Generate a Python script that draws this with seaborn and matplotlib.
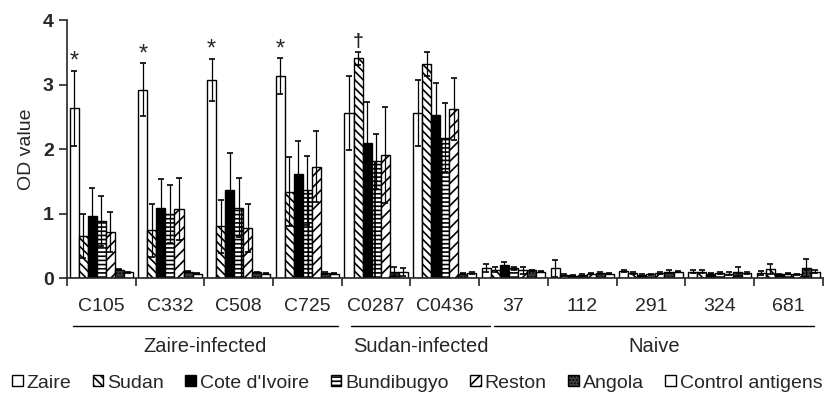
import numpy as np
import pandas as pd
import seaborn as sns
import matplotlib.pyplot as plt
import matplotlib.transforms as mtransforms
from matplotlib.patches import Patch

samples = ['C105', 'C332', 'C508', 'C725', 'C0287', 'C0436', '37', '112', '291', '324', '681']
antigens = ['Zaire', 'Sudan', "Cote d'Ivoire", 'Bundibugyo', 'Reston', 'Angola', 'Control antigens']

zaire = [2.63, 2.92, 3.07, 3.13, 2.56, 2.56, 0.16, 0.15, 0.11, 0.10, 0.08]
zaire_err = [0.58, 0.41, 0.33, 0.28, 0.57, 0.51, 0.06, 0.13, 0.02, 0.02, 0.03]
sudan = [0.65, 0.74, 0.80, 1.34, 3.41, 3.32, 0.13, 0.05, 0.08, 0.10, 0.14]
sudan_err = [0.34, 0.41, 0.41, 0.54, 0.10, 0.19, 0.04, 0.01, 0.01, 0.02, 0.08]
ivoire = [0.96, 1.08, 1.37, 1.62, 2.10, 2.53, 0.20, 0.04, 0.05, 0.07, 0.06]
ivoire_err = [0.44, 0.45, 0.57, 0.51, 0.63, 0.49, 0.05, 0.01, 0.01, 0.01, 0.01]
bundi = [0.89, 1.00, 1.09, 1.36, 1.81, 2.18, 0.15, 0.05, 0.06, 0.08, 0.07]
bundi_err = [0.39, 0.45, 0.46, 0.53, 0.43, 0.54, 0.02, 0.01, 0.01, 0.01, 0.01]
reston = [0.71, 1.07, 0.78, 1.73, 1.91, 2.62, 0.12, 0.07, 0.08, 0.07, 0.06]
reston_err = [0.31, 0.48, 0.37, 0.55, 0.75, 0.48, 0.05, 0.01, 0.01, 0.02, 0.01]
angola = [0.13, 0.10, 0.09, 0.08, 0.10, 0.07, 0.12, 0.08, 0.10, 0.10, 0.15]
angola_err = [0.01, 0.01, 0.01, 0.01, 0.07, 0.01, 0.01, 0.01, 0.02, 0.07, 0.14]
control = [0.09, 0.07, 0.07, 0.07, 0.10, 0.08, 0.10, 0.07, 0.10, 0.08, 0.10]
control_err = [0.01, 0.01, 0.01, 0.01, 0.06, 0.02, 0.01, 0.01, 0.01, 0.01, 0.02]

group_names = ['Zaire-infected', 'Sudan-infected', 'Naive']
group_spans = [(-0.41, 3.44), (3.63, 5.66), (5.72, 10.38)]
star_marks = ['*', '*', '*', '*']  # Zaire bars of C105..C725
dagger_sample = 4  # Sudan bar of C0287

values = [zaire, sudan, ivoire, bundi, reston, angola, control]
errors = [zaire_err, sudan_err, ivoire_err, bundi_err, reston_err, angola_err, control_err]

rows = []
for a, vals in zip(antigens, values):
    for s, v in zip(samples, vals):
        rows.append({'sample': s, 'antigen': a, 'od': v})
df = pd.DataFrame(rows)

sns.set_style('ticks')
plt.rcParams['font.family'] = ['Liberation Sans', 'DejaVu Sans']
plt.rcParams['hatch.linewidth'] = 1.2

face = ['white', 'white', 'black', 'white', 'white', '#4a4a4a', 'white']
hatches = ['', '\\\\\\\\', '', '+---', '///', '.....', '']
palette = dict(zip(antigens, face))

fig = plt.figure(figsize=(8.26, 3.95), dpi=100)
ax = fig.add_axes([0.081, 0.296, 0.915, 0.653])

sns.barplot(data=df, x='sample', y='od', hue='antigen', palette=palette,
            edgecolor='black', linewidth=1.0, width=0.92, errorbar=None,
            legend=False, ax=ax)

bar_conts = list(ax.containers)
for j, cont in enumerate(bar_conts):
    xs, ys = [], []
    for bar in cont:
        bar.set_hatch(hatches[j])
        xs.append(bar.get_x() + bar.get_width() / 2)
        ys.append(bar.get_height())
    ax.errorbar(xs, ys, yerr=errors[j], fmt='none', ecolor='black',
                elinewidth=0.9, capsize=2.5, capthick=1.2, zorder=1)
    if j == 0:
        for i in range(4):
            ax.text(xs[i], ys[i] + errors[j][i] - 0.03, star_marks[i],
                    ha='center', va='bottom', fontsize=17)
    if j == 1:
        i = dagger_sample
        ax.text(xs[i], ys[i] + errors[j][i] + 0.03, '\u2020',
                ha='center', va='bottom', fontsize=14, fontweight='bold')

ax.set_xlim(-0.5, 10.5)
ax.set_ylim(0, 4)
ax.set_yticks([0, 1, 2, 3, 4])
ax.set_yticklabels(['0', '1', '2', '3', '4'], fontsize=14, fontweight='bold')
ax.set_ylabel('OD value', fontsize=14, labelpad=6)
ax.set_xlabel('')
ax.set_xticks(range(len(samples)))
ax.set_xticklabels(samples, fontsize=14)
ax.set_xticks(np.arange(-0.5, 11, 1), minor=True)
ax.tick_params(axis='x', which='major', length=0, pad=14)
ax.tick_params(axis='x', which='minor', length=6, width=1.2, direction='out')
ax.tick_params(axis='y', length=6, width=1.2, direction='out')
sns.despine(ax=ax)
for sp in ['left', 'bottom']:
    ax.spines[sp].set_linewidth(1.2)

trans = mtransforms.blended_transform_factory(ax.transData, fig.transFigure)
for name, (x0, x1) in zip(group_names, group_spans):
    ax.plot([x0, x1], [1 - 326 / 395] * 2, color='black', lw=1.0,
            transform=trans, clip_on=False)
    ax.text((x0 + x1) / 2, 1 - 346 / 395, name, transform=trans,
            ha='center', va='center', fontsize=14.5)

handles = [Patch(facecolor=face[j], edgecolor='black', hatch=hatches[j], label=antigens[j])
           for j in range(len(antigens))]
fig.legend(handles=handles, loc='center', bbox_to_anchor=(0.505, 1 - 383 / 395),
           ncol=7, frameon=False, fontsize=14, handlelength=0.55, handleheight=0.55,
           handletextpad=0.2, columnspacing=1.1, borderaxespad=0)

fig.savefig('out.png', dpi=100)
